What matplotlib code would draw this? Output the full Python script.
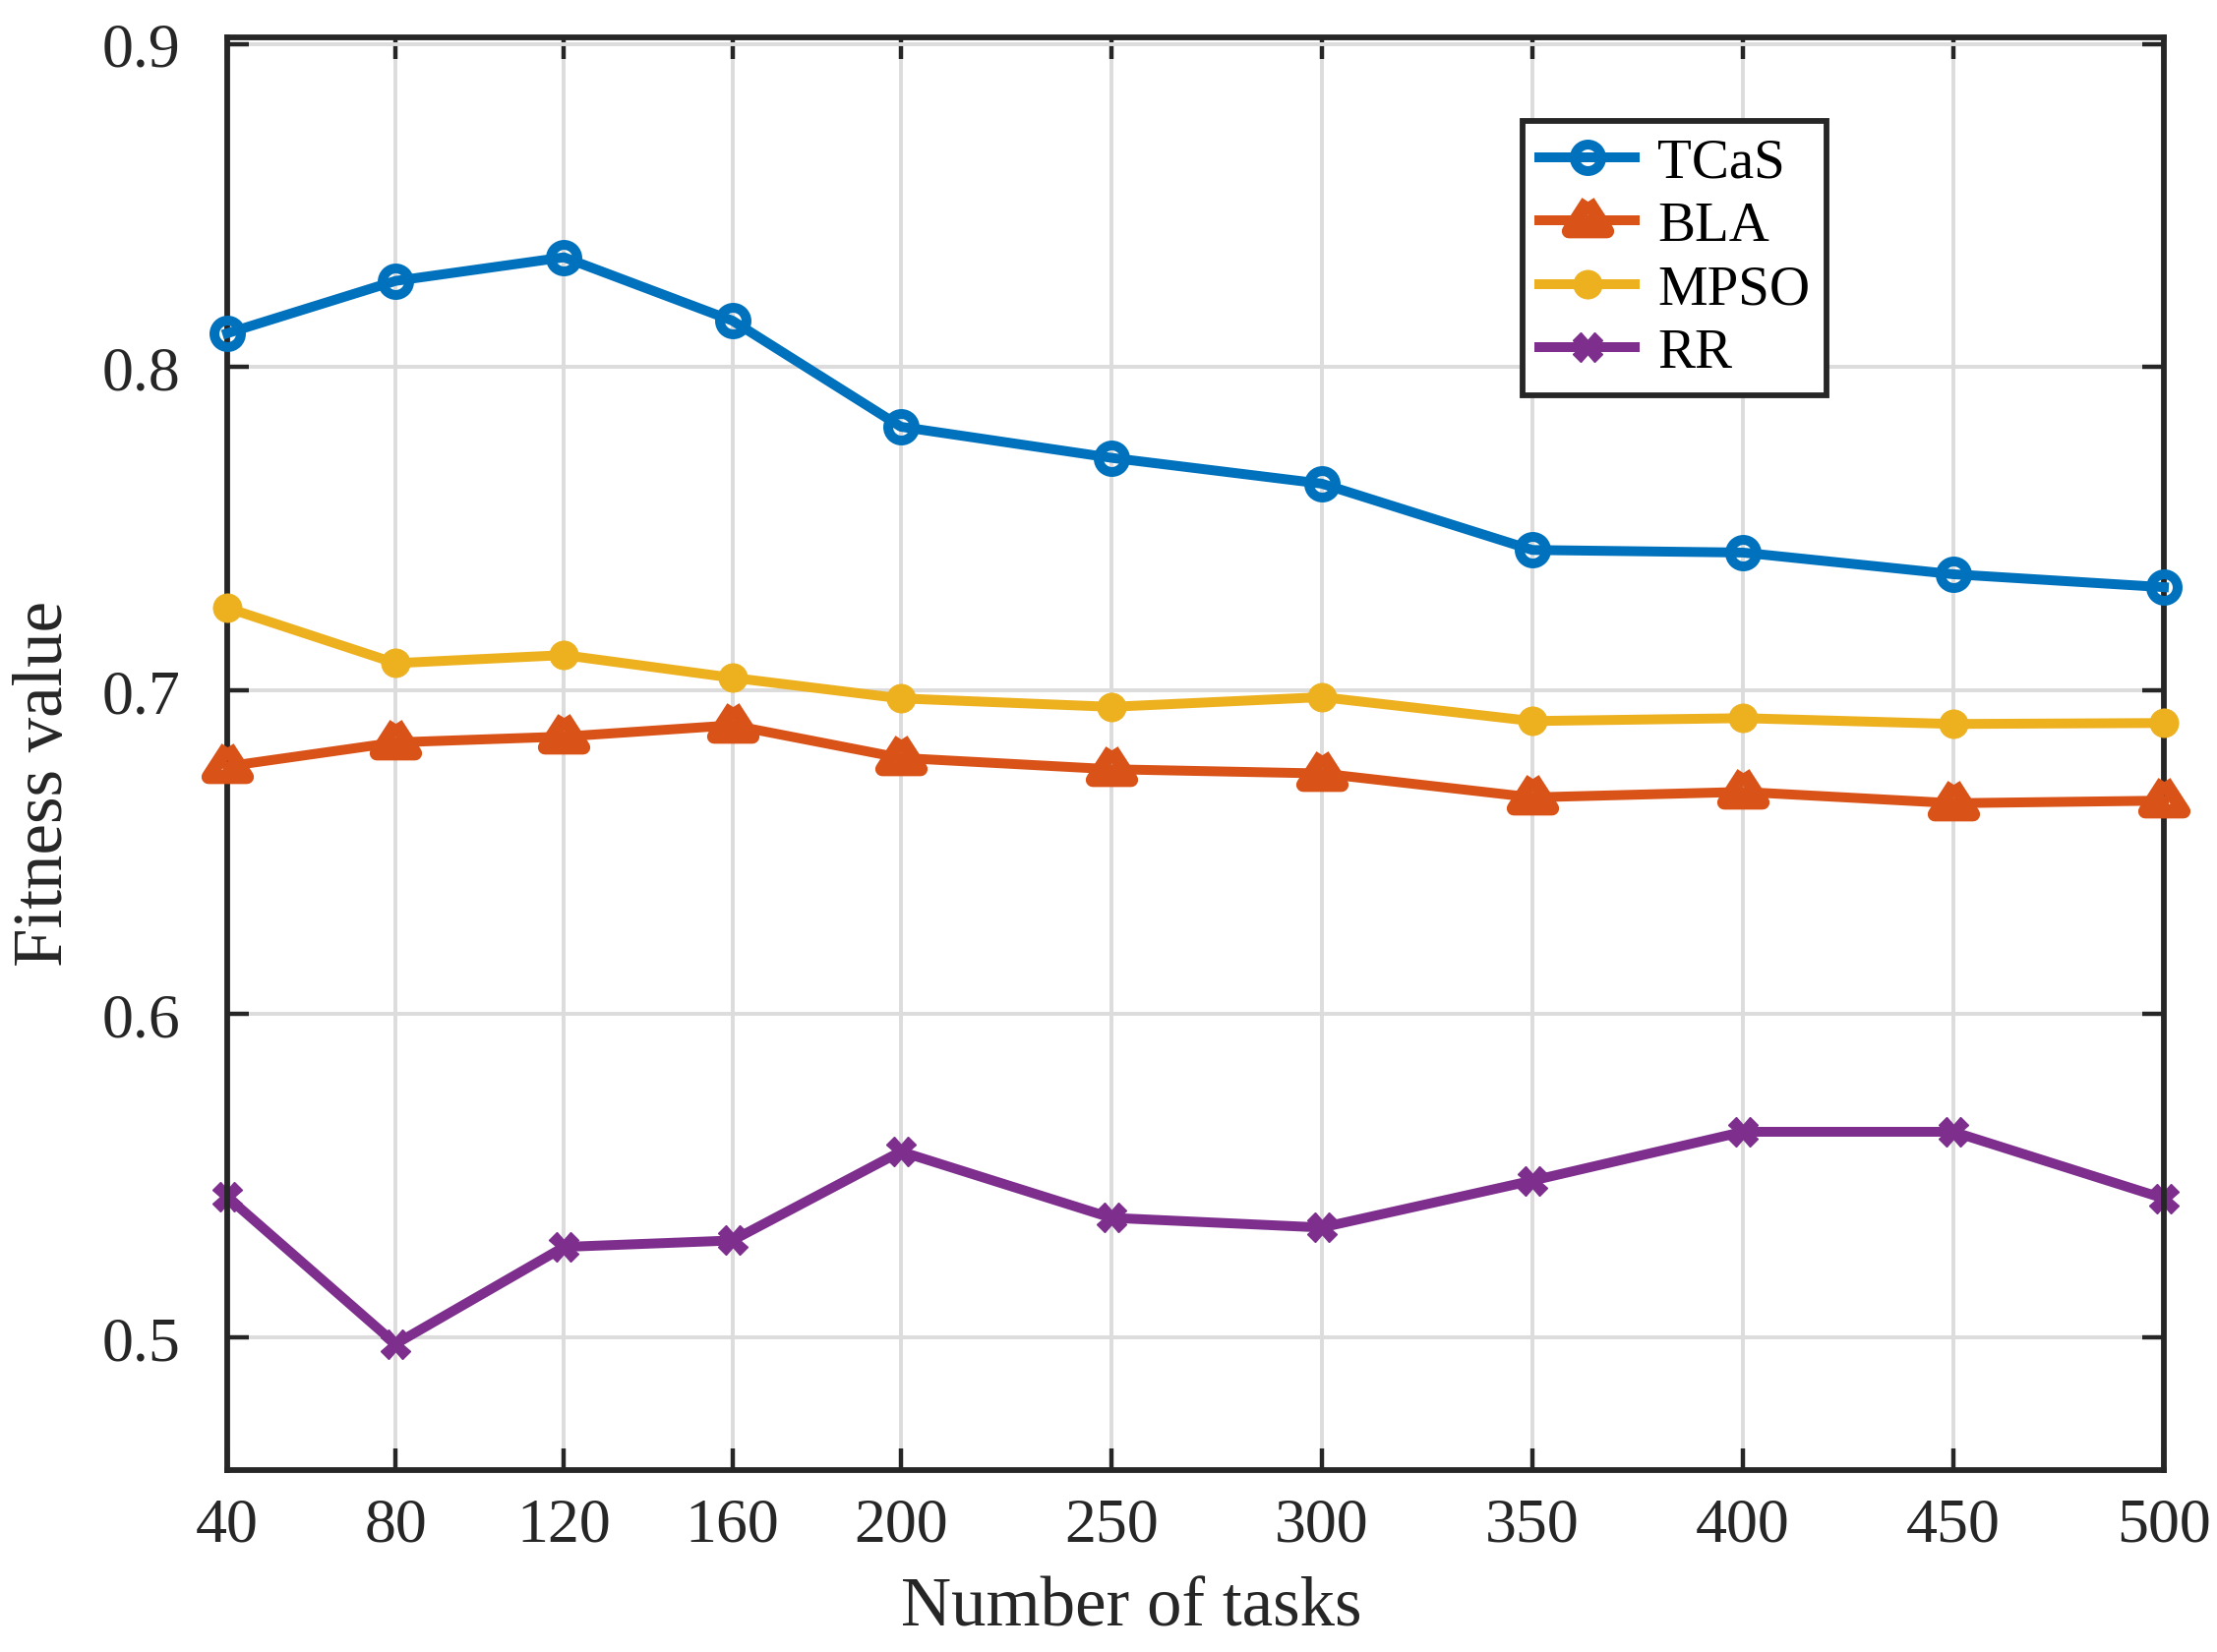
import numpy as np
import matplotlib
matplotlib.use('Agg')
import matplotlib.pyplot as plt
from matplotlib.markers import MarkerStyle

# data
tasks = [40, 80, 120, 160, 200, 250, 300, 350, 400, 450, 500]
tcas = [0.8105, 0.8267, 0.8340, 0.8144, 0.7816, 0.7720, 0.7640, 0.7435, 0.7427, 0.7360, 0.7320]
bla = [0.6766, 0.6840, 0.6858, 0.6893, 0.6792, 0.6757, 0.6744, 0.6670, 0.6687, 0.6652, 0.6660]
mpso = [0.7256, 0.7085, 0.7110, 0.7040, 0.6976, 0.6950, 0.6980, 0.6906, 0.6915, 0.6897, 0.6900]
rr = [0.5435, 0.4980, 0.5280, 0.5300, 0.5575, 0.5370, 0.5340, 0.5485, 0.5636, 0.5636, 0.5430]

plt.rcParams['font.family'] = ['Liberation Serif', 'DejaVu Serif']

# matlab-like triangle: wider than tall, centred on its incentre
tri = MarkerStyle([(0, 1), (-1, -0.547), (1, -0.547), (0, 1)], joinstyle='miter')

fig = plt.figure(figsize=(11.27, 8.405), dpi=200)
ax = fig.add_axes([231 / 2254, 1 - 1496 / 1681, (2200 - 231) / 2254, (1496 - 39) / 1681])

ax.plot(tasks, tcas, color='#0072BD', lw=3.6, marker='o', ms=9.7, mfc='none', mew=3.6,
        label='TCaS', clip_on=False, zorder=5)
ax.plot(tasks, bla, color='#D95319', lw=3.6, marker=tri, ms=14, mfc='none', mew=5.2,
        label='BLA', clip_on=False, zorder=4)
ax.plot(tasks, mpso, color='#EDB120', lw=3.6, marker='o', ms=10.5, mfc='#EDB120', mew=0.3,
        label='MPSO', clip_on=False, zorder=3)
ax.plot(tasks, rr, color='#7E2F8E', lw=3.6, marker='X', ms=10.5, mfc='#7E2F8E', mew=0.5,
        label='RR', clip_on=False, zorder=2)

ax.set_xlim(40, 500)
ax.set_ylim(0.459, 0.902)
ax.set_xticks(tasks)
ax.set_yticks([0.5, 0.6, 0.7, 0.8, 0.9])
ax.set_yticklabels(['0.5', '0.6', '0.7', '0.8', '0.9'])

ax.grid(True, color='#dcdcdc', lw=1.4)
ax.set_axisbelow(True)
for s in ax.spines.values():
    s.set_linewidth(2.1)
    s.set_color('#262626')
ax.tick_params(direction='in', length=8, width=1.6, colors='#262626',
               top=True, right=True, labelsize=23)
ax.tick_params(axis='y', pad=17)
ax.tick_params(axis='x', pad=10)

ax.set_xlabel('Number of tasks', fontsize=25.5, color='#262626', va='baseline')
ax.xaxis.set_label_coords(0.467, -0.1078)
ax.set_ylabel('Fitness value', fontsize=25.5, color='#262626', va='center')
ax.yaxis.set_label_coords(-0.094, 0.48)

leg = ax.legend(loc='upper left', bbox_to_anchor=(0.669, 0.942), fontsize=20.5,
                frameon=True, fancybox=False, edgecolor='#262626', framealpha=1,
                handlelength=1.7, labelspacing=0.22, borderpad=0.3,
                handletextpad=0.4, borderaxespad=0)
leg.get_frame().set_linewidth(2.1)

fig.savefig('out.png', dpi=200)
